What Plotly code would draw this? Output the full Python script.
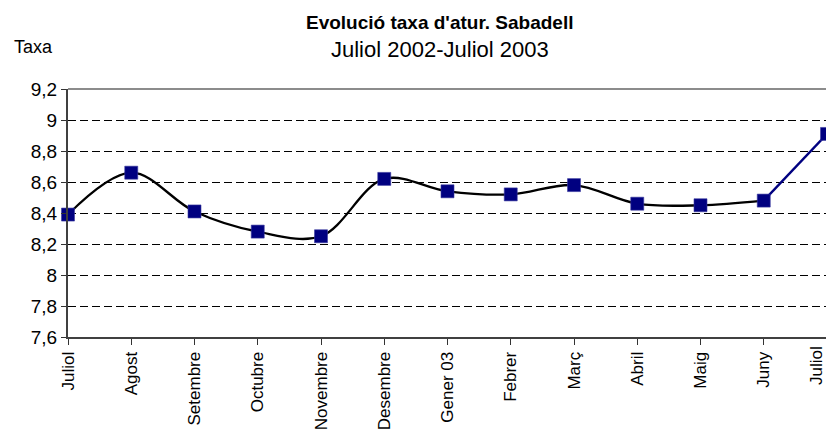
import plotly.graph_objects as go

months = ["Juliol", "Agost", "Setembre", "Octubre", "Novembre", "Desembre",
          "Gener 03", "Febrer", "Març", "Abril", "Maig", "Juny", "Juliol"]
taxa = [8.39, 8.66, 8.41, 8.28, 8.25, 8.62, 8.54, 8.52, 8.58, 8.46, 8.45, 8.48, 8.91]
y_ticks = [7.6, 7.8, 8.0, 8.2, 8.4, 8.6, 8.8, 9.0, 9.2]

xs = list(range(len(months)))
FONT = "Liberation Sans, Arial, sans-serif"
NAVY = "#000080"

fig = go.Figure()
# black smoothed line up to Juny
fig.add_trace(go.Scatter(x=xs[:-1], y=taxa[:-1], mode="lines",
                         line=dict(color="black", width=2.3, shape="spline", smoothing=1),
                         cliponaxis=False, hoverinfo="skip"))
# last segment in navy
fig.add_trace(go.Scatter(x=xs[-2:], y=taxa[-2:], mode="lines",
                         line=dict(color=NAVY, width=2.3),
                         cliponaxis=False, hoverinfo="skip"))
fig.add_trace(go.Scatter(x=xs, y=taxa, mode="markers",
                         marker=dict(symbol="square", size=13, color=NAVY,
                                     line=dict(color="#3a3aa0", width=0.6)),
                         cliponaxis=False))

# last category label drawn as an annotation so it is not cut at the right edge
tick_text = months[:-1] + [""]

# the page body has an 8px margin: figure sits at (8, 8)
fig.update_layout(
    width=826, height=427,
    margin=dict(l=60, r=7, t=81, b=98, autoexpand=False),
    paper_bgcolor="white", plot_bgcolor="white",
    showlegend=False,
    separators=",.",
    font=dict(family=FONT, color="black"),
    xaxis=dict(
        range=[0, len(months) - 1],
        tickmode="array", tickvals=xs, ticktext=tick_text,
        tickangle=-90, tickfont=dict(size=17, family=FONT),
        ticklabeloverflow="allow",
        ticks="outside", ticklen=6, tickcolor="#333333", tickwidth=1,
        showline=True, linecolor="#404040", linewidth=2,
        showgrid=False, zeroline=False, automargin=False,
    ),
    yaxis=dict(
        range=[7.6, 9.2],
        tickmode="array", tickvals=y_ticks,
        ticktext=[("%g" % v).replace(".", ",") for v in y_ticks],
        tickfont=dict(size=19, family=FONT),
        ticks="outside", ticklen=5, tickcolor="#333333", tickwidth=1,
        showline=True, linecolor="#404040", linewidth=2,
        showgrid=True, gridcolor="black", griddash="8px,4px", gridwidth=1,
        zeroline=False, automargin=False,
    ),
    shapes=[
        dict(type="line", xref="paper", yref="paper", x0=0, x1=1, y0=1, y1=1,
             line=dict(color="#8c8c8c", width=2)),
        dict(type="line", xref="paper", yref="paper", x0=1, x1=1, y0=0, y1=1,
             line=dict(color="#8c8c8c", width=2)),
    ],
    annotations=[
        dict(text="<b>Evolució taxa d'atur. Sabadell</b>", xref="paper", yref="paper",
             x=0.49, y=1.27, xanchor="center", yanchor="middle", showarrow=False,
             font=dict(size=19, family=FONT)),
        dict(text="Juliol 2002-Juliol 2003", xref="paper", yref="paper",
             x=0.49, y=1.161, xanchor="center", yanchor="middle", showarrow=False,
             font=dict(size=22, family=FONT)),
        dict(text="Taxa", xref="paper", yref="paper",
             x=-0.046, y=1.169, xanchor="center", yanchor="middle", showarrow=False,
             font=dict(size=18, family=FONT)),
        dict(text=months[-1], xref="x", yref="paper",
             x=xs[-1], y=0, xanchor="right", yanchor="top", showarrow=False,
             textangle=-90, xshift=0, yshift=-8, borderpad=0,
             font=dict(size=17, family=FONT)),
    ],
)

fig.write_html("out.html")
